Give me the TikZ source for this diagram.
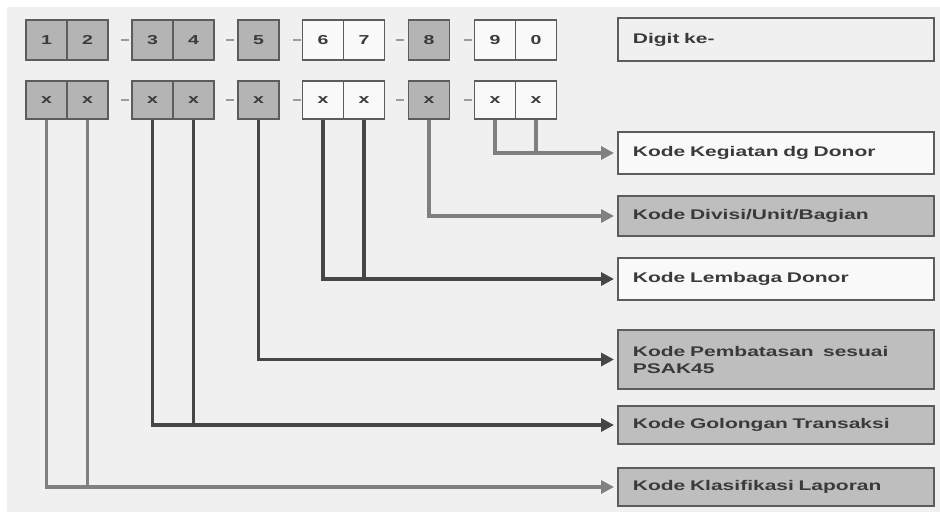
\documentclass[tikz,border=0pt]{standalone}
\usepackage{fontspec}
\newfontfamily\lblfont{Liberation Sans}[FakeStretch=1.5]
\usetikzlibrary{arrows.meta}
\definecolor{bgcol}{RGB}{240,240,240}
\definecolor{cellgray}{RGB}{180,180,180}
\definecolor{cellwhite}{RGB}{249,249,249}
\definecolor{lblgray}{RGB}{190,190,190}
\definecolor{boxline}{RGB}{92,92,92}
\definecolor{darkline}{RGB}{70,70,70}
\definecolor{greyline}{RGB}{128,128,128}
\definecolor{dashcol}{RGB}{155,155,155}
\definecolor{txtcol}{RGB}{58,58,58}

\begin{document}
\begin{tikzpicture}[x=1pt, y=-1pt,
  cell/.style={draw=boxline, line width=1.8pt, minimum width=41pt, inner sep=0pt,
               text=txtcol, font=\lblfont\bfseries\fontsize{13}{15}\selectfont},
  lbl/.style={draw=boxline, line width=1.8pt, anchor=west, minimum width=316pt,
              text width=286pt, inner xsep=15pt, align=left, text=txtcol,
              font=\lblfont\bfseries\fontsize{14}{17}\selectfont},
  dashmark/.style={draw=dashcol, line width=2.5pt},
  conn/.style={line width=3.5pt, -{Triangle[length=13pt,width=13pt]}, shorten >=3pt},
  joinline/.style={line width=3.5pt},
]
\useasboundingbox (0,0) rectangle (940,512);
\fill[white] (0,0) rectangle (940,512);
\fill[bgcol] (7,7) rectangle (940,512);

% ---- Digit cells: top row (digit number), bottom row (x) ----
\foreach \n/\cx/\fc in {1/46.5/cellgray, 2/87.5/cellgray, 3/152.5/cellgray, 4/193.5/cellgray,
                        5/258.5/cellgray, 6/323/cellwhite, 7/364/cellwhite, 8/429/cellgray,
                        9/495/cellwhite, 0/536/cellwhite}{
  \node[cell, fill=\fc, minimum height=40pt] (top\n) at (\cx,40) {\n};
  \node[cell, fill=\fc, minimum height=38pt] (low\n) at (\cx,100) {x};
}

% ---- Separating dashes ----
\foreach \dx in {125, 230, 297, 400, 468}
  \foreach \dy in {40, 100}
    \draw[dashmark] (\dx-4,\dy) -- (\dx+4,\dy);

% ---- Description boxes ----
\node[lbl, fill=bgcol, minimum height=43pt] (digitke) at (617,39.5) {Digit ke-};
\node[lbl, fill=cellwhite, minimum height=42pt] (kegiatan) at (617,153) {Kode Kegiatan dg Donor};
\node[lbl, fill=lblgray, minimum height=40pt] (divisi) at (617,216) {Kode Divisi/Unit/Bagian};
\node[lbl, fill=cellwhite, minimum height=42pt] (lembaga) at (617,279) {Kode Lembaga Donor};
\node[lbl, fill=lblgray, minimum height=59pt] (batas) at (617,359.5) {Kode Pembatasan \ sesuai\\PSAK45};
\node[lbl, fill=lblgray, minimum height=38pt] (golongan) at (617,425) {Kode Golongan Transaksi};
\node[lbl, fill=lblgray, minimum height=38pt] (klasifikasi) at (617,487) {Kode Klasifikasi Laporan};

% ---- Connectors ----
\draw[conn, greyline] (low9.south) |- (kegiatan.west);
\draw[joinline, greyline] (low0.south) -- (low0.south |- kegiatan.west);
\draw[conn, greyline] (low8.south) |- (divisi.west);
\draw[conn, darkline] (low6.south) |- (lembaga.west);
\draw[joinline, darkline] (low7.south) -- (low7.south |- lembaga.west);
\draw[conn, darkline] (low5.south) |- (batas.west);
\draw[conn, darkline] (low3.south) |- (golongan.west);
\draw[joinline, darkline] (low4.south) -- (low4.south |- golongan.west);
\draw[conn, greyline] (low1.south) |- (klasifikasi.west);
\draw[joinline, greyline] (low2.south) -- (low2.south |- klasifikasi.west);
\end{tikzpicture}
\end{document}
